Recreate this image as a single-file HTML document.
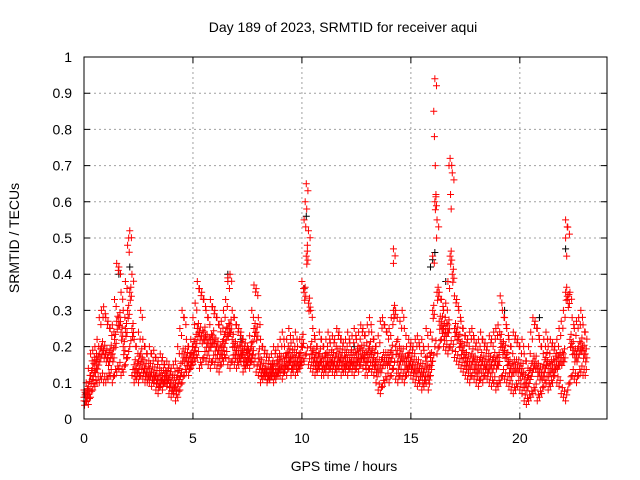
<!DOCTYPE html>
<html><head><meta charset="utf-8"><style>
body{margin:0;background:#fff}
svg{display:block;font-family:"Liberation Sans",sans-serif}
</style></head><body>
<svg id="chart" width="640" height="480">
<text x="343" y="32" font-size="14" text-anchor="middle">Day 189 of 2023, SRMTID for receiver aqui</text>
<text x="344" y="471" font-size="14" text-anchor="middle">GPS time / hours</text>
<text transform="translate(19,238) rotate(-90)" font-size="14" text-anchor="middle">SRMTID / TECUs</text>
<g id="grid"></g>
<g id="marks"></g>
<rect x="84" y="57" width="523" height="362" fill="none" stroke="#000"/>
</svg>
<script>
const xTicks=[0,5,10,15,20];
const yTicks=[0,0.1,0.2,0.3,0.4,0.5,0.6,0.7,0.8,0.9,1];
const yTickLabels=["0","0.1","0.2","0.3","0.4","0.5","0.6","0.7","0.8","0.9","1"];
const tStart=0, tStep=0.1;
const lo=[.05,.05,.04,.06,.08,.09,.10,.10,.11,.10,.10,.11,.12,.10,.12,.13,.14,.12,.13,.15,.17,.20,.12,.10,.11,.10,.12,.11,.10,.10,.10,.09,.10,.08,.07,.09,.08,.10,.09,.07,.06,.07,.05,.06,.08,.10,.12,.13,.12,.14,.15,.16,.17,.14,.15,.17,.16,.15,.14,.16,.15,.14,.13,.15,.16,.17,.15,.14,.16,.15,.14,.15,.16,.13,.14,.15,.14,.16,.15,.13,.12,.10,.11,.12,.10,.11,.12,.10,.11,.12,.12,.11,.13,.12,.14,.12,.13,.12,.13,.14,.15,.16,.18,.15,.14,.13,.12,.13,.14,.12,.12,.13,.12,.14,.13,.12,.13,.14,.12,.13,.13,.12,.14,.13,.12,.14,.13,.15,.14,.12,.12,.14,.13,.12,.10,.08,.07,.09,.10,.11,.10,.12,.14,.11,.10,.12,.11,.10,.12,.13,.12,.11,.10,.09,.10,.08,.09,.10,.08,.12,.16,.20,.18,.20,.22,.20,.19,.18,.20,.19,.17,.16,.15,.14,.13,.12,.11,.10,.12,.11,.10,.09,.11,.10,.12,.11,.10,.09,.10,.08,.09,.10,.12,.11,.10,.09,.08,.07,.08,.09,.08,.07,.05,.04,.05,.06,.07,.08,.05,.06,.07,.09,.10,.08,.09,.10,.12,.10,.09,.07,.06,.05,.08,.10,.12,.11,.10,.12,.13,.12,.12];
const typ=[.06,.07,.09,.12,.14,.15,.16,.18,.20,.19,.18,.17,.19,.18,.22,.27,.28,.24,.20,.25,.30,.35,.25,.15,.14,.16,.18,.15,.14,.13,.14,.13,.13,.12,.11,.12,.12,.12,.12,.11,.10,.10,.10,.12,.14,.18,.18,.17,.16,.17,.20,.22,.25,.24,.23,.24,.22,.21,.22,.23,.21,.20,.19,.20,.22,.24,.25,.26,.22,.20,.19,.19,.20,.18,.17,.18,.18,.20,.25,.24,.18,.15,.14,.14,.13,.13,.14,.14,.14,.15,.16,.16,.16,.17,.18,.16,.17,.17,.16,.17,.22,.35,.45,.32,.20,.18,.17,.16,.18,.16,.16,.17,.17,.17,.17,.16,.18,.18,.17,.16,.17,.17,.17,.17,.17,.18,.18,.19,.19,.17,.18,.20,.18,.17,.15,.15,.15,.17,.17,.17,.17,.19,.30,.20,.16,.18,.18,.16,.16,.17,.16,.15,.15,.15,.14,.14,.13,.16,.13,.17,.30,.60,.35,.27,.27,.25,.25,.26,.45,.40,.25,.24,.22,.20,.19,.17,.16,.16,.18,.16,.15,.15,.17,.16,.16,.15,.16,.15,.17,.16,.17,.22,.20,.19,.17,.15,.14,.15,.15,.15,.14,.14,.11,.10,.12,.14,.16,.16,.14,.13,.13,.15,.17,.14,.15,.15,.16,.16,.17,.17,.18,.35,.33,.22,.20,.18,.18,.20,.21,.19,.18];
const hi=[.08,.10,.14,.18,.19,.20,.22,.28,.30,.31,.28,.27,.25,.26,.33,.43,.42,.35,.30,.38,.48,.52,.40,.22,.20,.24,.30,.22,.20,.18,.20,.18,.19,.17,.16,.18,.17,.15,.16,.15,.14,.15,.16,.20,.25,.30,.28,.22,.20,.22,.28,.32,.38,.36,.35,.33,.30,.28,.33,.31,.30,.28,.26,.27,.30,.33,.38,.40,.30,.28,.26,.25,.24,.22,.21,.20,.23,.30,.37,.36,.28,.22,.20,.19,.18,.17,.18,.20,.19,.20,.22,.24,.20,.22,.25,.21,.22,.24,.20,.22,.38,.55,.65,.52,.30,.25,.22,.20,.24,.22,.20,.22,.24,.21,.23,.22,.25,.24,.22,.21,.22,.24,.21,.23,.25,.22,.24,.26,.25,.23,.26,.28,.24,.22,.20,.23,.27,.28,.26,.24,.25,.28,.47,.30,.22,.27,.30,.25,.20,.22,.21,.20,.22,.23,.20,.22,.19,.25,.20,.24,.45,.94,.55,.35,.33,.30,.32,.38,.72,.68,.34,.33,.30,.27,.25,.23,.22,.24,.25,.22,.21,.22,.24,.22,.21,.20,.23,.22,.24,.25,.26,.34,.30,.28,.25,.22,.20,.24,.23,.22,.20,.22,.18,.16,.20,.24,.28,.27,.25,.22,.20,.22,.24,.20,.22,.21,.20,.22,.25,.27,.30,.55,.53,.35,.28,.25,.27,.28,.30,.26,.24];
const spikeT=[16.05,16.08,16.12,16.15,16.18,10.15,10.22,10.25,16.75,16.82,16.85,2.05,22.1,22.15,14.2,6.6];
const spikeV=[.85,.78,.70,.62,.50,.60,.58,.48,.70,.62,.58,.50,.50,.45,.43,.39];
const blackT=[1.6,2.1,6.6,10.1,10.2,15.9,16.0,16.1,16.6,19.3,20.9,22.1,12.4,7.2];
const blackV=[.40,.42,.40,.36,.56,.42,.44,.46,.38,.30,.28,.47,.20,.22];

const X=t=>84+t*523/24, Y=v=>419-v*362;
const ns="http://www.w3.org/2000/svg";
const grid=document.getElementById('grid'), marks=document.getElementById('marks'), svg=document.getElementById('chart');
xTicks.forEach(t=>{
  const x=X(t);
  if(t>0){const l=document.createElementNS(ns,'line');l.setAttribute('x1',x);l.setAttribute('x2',x);l.setAttribute('y1',57);l.setAttribute('y2',419);l.setAttribute('stroke','#a0a0a0');l.setAttribute('stroke-dasharray','2,3');
  
  
  grid.appendChild(l);}
  const k=document.createElementNS(ns,'path');k.setAttribute('d',`M${x},419v-6M${x},57v6`);k.setAttribute('stroke','#000');
  
  
  grid.appendChild(k);
  const tx=document.createElementNS(ns,'text');tx.setAttribute('x',x);tx.setAttribute('y',443);tx.setAttribute('font-size','14');tx.setAttribute('text-anchor','middle');tx.textContent=t;
  
  
  svg.appendChild(tx);
});
yTicks.forEach((v,i)=>{
  const y=Y(v);
  if(v>0&&v<1){const l=document.createElementNS(ns,'line');l.setAttribute('x1',84);l.setAttribute('x2',607);l.setAttribute('y1',y);l.setAttribute('y2',y);l.setAttribute('stroke','#a0a0a0');l.setAttribute('stroke-dasharray','2,3');
  
  
  grid.appendChild(l);}
  const k=document.createElementNS(ns,'path');k.setAttribute('d',`M84,${y}h6M607,${y}h-6`);k.setAttribute('stroke','#000');
  
  
  grid.appendChild(k);
  const tx=document.createElementNS(ns,'text');tx.setAttribute('x',72);tx.setAttribute('y',y+5);tx.setAttribute('font-size','14');tx.setAttribute('text-anchor','end');tx.textContent=yTickLabels[i];
  
  
  svg.appendChild(tx);
});
function crosses(ts,vs,color,name,dv){
  let d='';
  for(let i=0;i<vs.length;i++){const x=X(ts[i]),y=Y(vs[i])+(dv||0);d+=`M${x-3.5},${y}h7M${x},${y-3.5}v7`;}
  const p=document.createElementNS(ns,'path');p.setAttribute('d',d);p.setAttribute('stroke',color);p.setAttribute('fill','none');p.setAttribute('stroke-width','1');
  
  
  marks.appendChild(p);
}
const times=lo.map((_,i)=>tStart+i*tStep);
const tA=times.map(t=>t+0.025), tB=times.map(t=>t+0.05), tC=times.map(t=>t+0.075);
crosses(blackT,blackV,'#000','black-series');
crosses(times,lo,'#ff0000','red-low-points');
crosses(tB,lo,'#ff0000','red-low-points-b',-6);
crosses(tA,typ,'#ff0000','red-typical-points',8);
crosses(times,typ,'#ff0000','red-typical-points-a');
crosses(tB,typ,'#ff0000','red-typical-points-b',-5);
crosses(tC,typ,'#ff0000','red-typical-points-c',4);
crosses(tC,hi,'#ff0000','red-high-points-c',7);
crosses(times,hi,'#ff0000','red-high-points');
crosses(spikeT,spikeV,'#ff0000','red-spike-points');
</script>
</body></html>
